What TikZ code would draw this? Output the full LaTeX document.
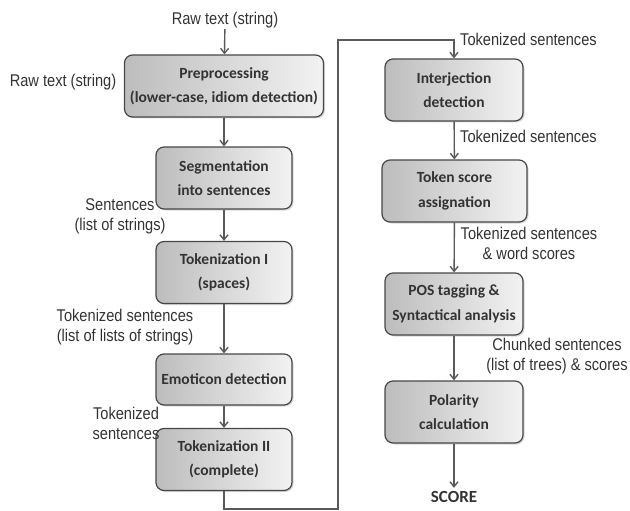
\documentclass[tikz,border=0pt]{standalone}
\usepackage{fontspec}
\setmainfont{Carlito}
\newfontfamily\labelfont[FakeStretch=0.86]{Liberation Sans}
\usetikzlibrary{arrows.meta,shadows}
\definecolor{linegray}{HTML}{5A5A5A}
\definecolor{textgray}{HTML}{333333}
\begin{document}
\begin{tikzpicture}[x=1pt,y=-1pt,
    stage/.style={draw=textgray!90,line width=1.2pt,rounded corners=8pt,
      left color=black!26,right color=black!5,
      drop shadow={shadow xshift=1.5pt,shadow yshift=-1.5pt,fill=black!30},
      minimum height=62pt,align=center,inner sep=2pt,
      font=\fontsize{15.5}{24.5}\selectfont\bfseries,text=textgray},
    lbl/.style={font=\labelfont\fontsize{17}{20}\selectfont,text=textgray,inner sep=1pt},
    flow/.style={draw=linegray,line width=1.4pt,-{Straight Barb[length=5pt,width=8pt]}}]
  \useasboundingbox (0,0) rectangle (630,511);
  % left column
  \node[stage,minimum width=199pt] (prep) at (224,86) {Preprocessing\\(lower-case, idiom detection)};
  \node[stage,minimum width=136pt] (seg) at (224,178) {Segmentation\\into sentences};
  \node[stage,minimum width=136pt] (tokI) at (224,272.5) {Tokenization I\\(spaces)};
  \node[stage,minimum width=136pt,minimum height=51pt] (emo) at (224,379.5) {Emoticon detection};
  \node[stage,minimum width=136pt] (tokII) at (224,459.5) {Tokenization II\\(complete)};
  % right column
  \node[stage,minimum width=138pt] (inter) at (454,90) {Interjection\\detection};
  \node[stage,minimum width=145pt] (tscore) at (454.5,191) {Token score\\assignation};
  \node[stage,minimum width=138pt] (pos) at (454,304) {POS tagging \&\\Syntactical analysis};
  \node[stage,minimum width=138pt] (pol) at (454,412) {Polarity\\calculation};
  \node[font=\fontsize{17}{20}\selectfont\bfseries,text=textgray] (score) at (454,497) {SCORE};
  % labels
  \node[lbl] (rawtop) at (225,20) {Raw text (string)};
  \node[lbl] (rawleft) at (63,82) {Raw text (string)};
  \node[lbl,align=center] (sent) at (120,216) {Sentences\\(list of strings)};
  \node[lbl,align=center] (toksent) at (125,327) {Tokenized sentences\\(list of lists of strings)};
  \node[lbl,align=center] (toksentb) at (126,423) {Tokenized\\sentences};
  \node[lbl,anchor=west] (toksentc) at (459,39) {Tokenized sentences};
  \node[lbl,anchor=west] (toksentd) at (459,136) {Tokenized sentences};
  \node[lbl,align=center] (wscores) at (529,243) {Tokenized sentences\\\& word scores};
  \node[lbl,align=center] (chunked) at (557,356) {Chunked sentences\\(list of trees) \& scores};
  % connections
  \coordinate (bendlow) at (338,509);
  \coordinate (bendhigh) at (338,40);
  \draw[flow] (rawtop) -- (prep);
  \draw[flow] (prep) -- (seg);
  \draw[flow] (seg) -- (tokI);
  \draw[flow] (tokI) -- (emo);
  \draw[flow] (emo) -- (tokII);
  \draw[flow] (tokII.south) |- (bendlow) -- (bendhigh) -| (inter.north);
  \draw[flow] (inter) -- (tscore);
  \draw[flow] (tscore) -- (pos);
  \draw[flow] (pos) -- (pol);
  \draw[flow] (pol) -- (score);
\end{tikzpicture}
\end{document}
